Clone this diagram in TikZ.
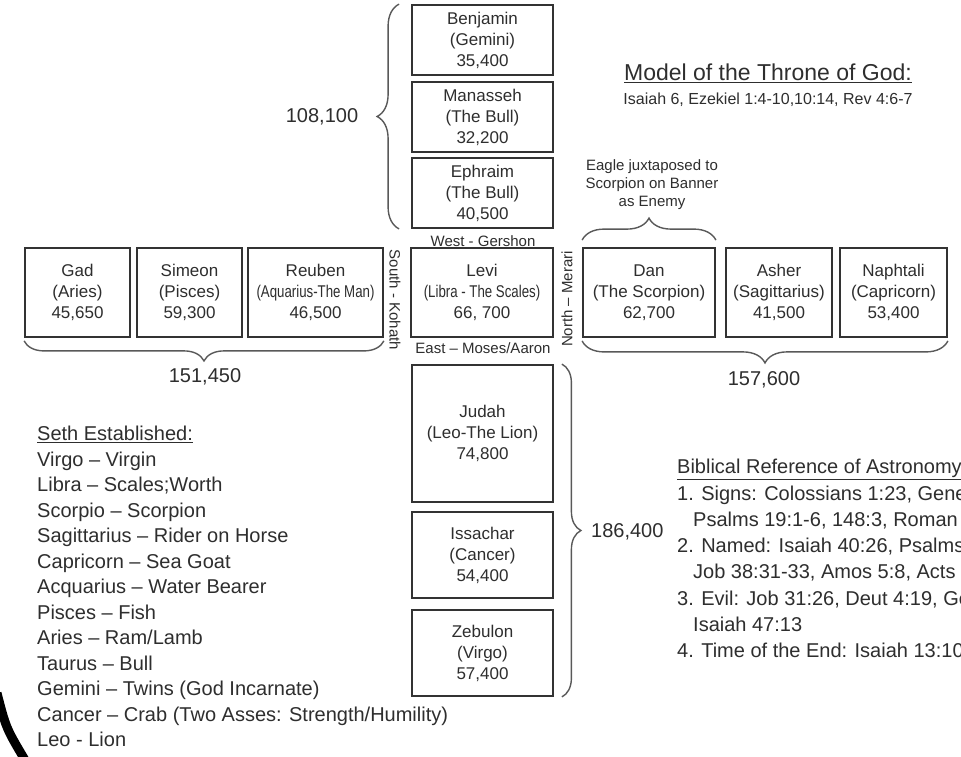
\documentclass[tikz,border=0pt]{standalone}
\usepackage{fontspec}
\setmainfont{Liberation Sans}
\usepackage{graphicx}
\usetikzlibrary{decorations.pathreplacing,calc}
\definecolor{inkgray}{HTML}{2E2E2E}
\colorlet{tribeline}{black!80}
\colorlet{braceline}{black!65}

\newcommand\squeeze[1]{\scalebox{0.78}[1]{#1}}

\tikzset{
  tribebox/.style={draw=tribeline, line width=1.8pt, align=center, text=inkgray,
    inner sep=0pt, font=\fontsize{17}{21}\selectfont},
  tribebrace/.style={draw=braceline, line width=1.4pt, decorate,
    decoration={brace, amplitude=#1}},
  tribebrace/.default=20pt,
  sumlabel/.style={text=inkgray, inner sep=0pt, font=\fontsize{20}{24}\selectfont},
  sidelabel/.style={text=inkgray, inner sep=0pt, font=\fontsize{15}{18}\selectfont},
  notetext/.style={text=inkgray, align=left, inner sep=0pt, anchor=north west,
    font=\fontsize{20}{25.5}\selectfont},
}

\begin{document}
\begin{tikzpicture}[x=1pt, y=-1pt]
		\newcommand\tribe[6]{%
		    \node[tribebox, minimum width={(#4-#2)*1pt}, minimum height={(#5-#3)*1pt}]
		        (#1) at ({(#2+#4)/2}, {(#3+#5)/2}) {#6};
		}

		\useasboundingbox (0,0) rectangle (961,756);
		\clip (0,0) rectangle (961,756);
		\fill[white] (0,0) rectangle (961,756);

		% west camp (top column)
		\tribe{benjamin}{412}{5}{553}{75}{Benjamin\\(Gemini)\\35,400}
		\tribe{manasseh}{412}{82}{553}{152}{Manasseh\\(The Bull)\\32,200}
		\tribe{ephraim}{412}{158}{553}{228}{Ephraim\\(The Bull)\\40,500}

		% south camp (left row)
		\tribe{gad}{25}{248}{130}{337}{Gad\\(Aries)\\45,650}
		\tribe{simeon}{137}{248}{242}{337}{Simeon\\(Pisces)\\59,300}
		\tribe{reuben}{248}{248}{383}{337}{Reuben\\\squeeze{(Aquarius-The Man)}\\46,500}

		% levites in the middle
		\tribe{levi}{411}{248}{553}{337}{Levi\\\squeeze{(Libra - The Scales)}\\66, 700}

		% north camp (right row)
		\tribe{dan}{583}{248}{715}{337}{Dan\\(The Scorpion)\\62,700}
		\tribe{asher}{726}{248}{832}{337}{Asher\\(Sagittarius)\\41,500}
		\tribe{naphtali}{840}{248}{947}{337}{Naphtali\\(Capricorn)\\53,400}

		% east camp (bottom column)
		\tribe{judah}{412}{365}{553}{502}{Judah\\(Leo-The Lion)\\74,800}
		\tribe{issachar}{412}{512}{553}{598}{Issachar\\(Cancer)\\54,400}
		\tribe{zebulon}{412}{610}{553}{696}{Zebulon\\(Virgo)\\57,400}

		% sides of the tabernacle
		\node[sidelabel] (west) at (483,241) {West - Gershon};
		\node[sidelabel] (east) at (483,348) {East – Moses/Aaron};
		\node[sidelabel, rotate=-90] (south) at (395,300) {South - Kohath};
		\node[sidelabel, rotate=90] (north) at (567,299) {North – Merari};

		% braces and totals
		\draw[tribebrace=22pt] ([xshift=-12pt]ephraim.south west) -- ([xshift=-12pt]benjamin.north west);
		\draw[tribebrace=20pt] ([yshift=-3pt]reuben.south east) -- ([yshift=-3pt]gad.south west);
		\draw[tribebrace=22pt] ([yshift=-3pt]naphtali.south east) -- ([yshift=-3pt]dan.south west);
		\draw[tribebrace=19pt] ([xshift=8pt]judah.north east) -- ([xshift=8pt]zebulon.south east);
		\draw[tribebrace=22pt] ([yshift=7pt]dan.north west) -- ([yshift=7pt]dan.north east);

		\node[sumlabel] (westsum) at (322,117) {108,100};
		\node[sumlabel] (southsum) at (205,377) {151,450};
		\node[sumlabel] (northsum) at (764,380) {157,600};
		\node[sumlabel, anchor=west] (eastsum) at (591,532) {186,400};

		\node[sidelabel, align=center] (eagle) at (652,185) {Eagle juxtaposed to\\Scorpion on Banner\\as Enemy};

		% title
		\node[text=inkgray, inner sep=0pt, font=\fontsize{23}{26}\selectfont] (title) at (768,73) {\underline{Model of the Throne of God:}};
		\node[text=inkgray, inner sep=0pt, font=\fontsize{16}{18}\selectfont] (verses) at (768,100) {Isaiah 6, Ezekiel 1:4-10,10:14, Rev 4:6-7};

		% notes
		\node[notetext] (seth) at (37,426) {\underline{Seth Established:}\\
		    Virgo – Virgin\\Libra – Scales;Worth\\Scorpio – Scorpion\\
		    Sagittarius – Rider on Horse\\Capricorn – Sea Goat\\
		    Acquarius – Water Bearer\\Pisces – Fish\\Aries – Ram/Lamb\\
		    Taurus – Bull\\Gemini – Twins (God Incarnate)\\
		    Cancer – Crab (Two Asses: Strength/Humility)\\Leo - Lion};
		\node[notetext, font=\fontsize{20}{26.3}\selectfont] (astro) at (677,459) {\underline{Biblical Reference of Astronomy}\\
		    1. Signs: Colossians 1:23, Gene\\
		    \hspace*{16pt}Psalms 19:1-6, 148:3, Roman\\
		    2. Named: Isaiah 40:26, Psalms\\
		    \hspace*{16pt}Job 38:31-33, Amos 5:8, Acts\\
		    3. Evil: Job 31:26, Deut 4:19, Ge\\
		    \hspace*{16pt}Isaiah 47:13\\
		    4. Time of the End: Isaiah 13:10};

		% edge of the page
		\draw[line width=9pt] (-3,693) .. controls (6,728) .. (25,760);
	\end{tikzpicture}
\end{document}
